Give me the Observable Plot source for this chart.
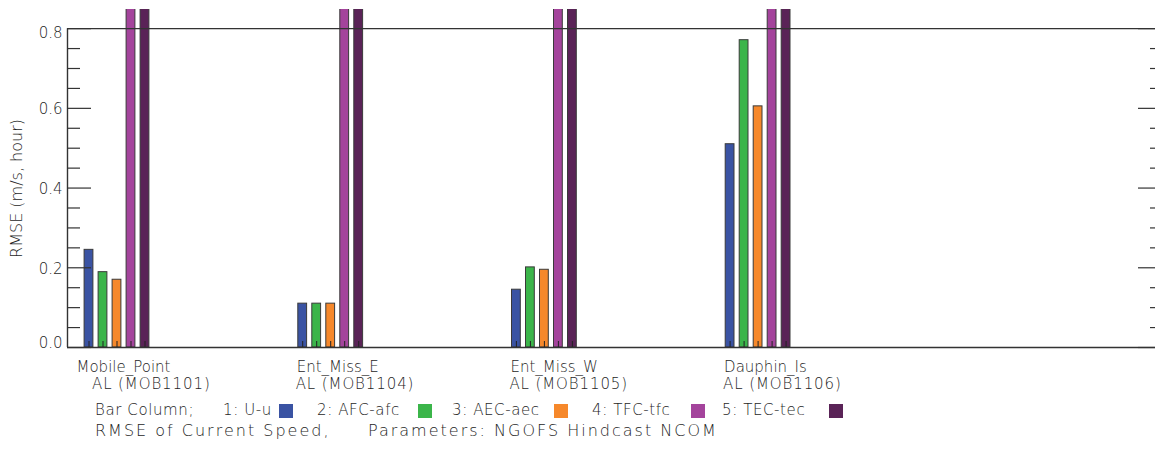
<!DOCTYPE html>
<html>
<head>
<meta charset="utf-8">
<script src="https://cdn.jsdelivr.net/npm/d3@7"></script>
<script src="https://cdn.jsdelivr.net/npm/@observablehq/plot@0.6"></script>
<style>
  html, body { margin: 0; padding: 0; background: #fff; overflow: hidden; }
  #wrap { position: relative; width: 1155px; height: 451px; overflow: hidden; font-family: "DejaVu Sans", sans-serif; font-weight: 200; color: #1e1e1e; }
  #wrap svg { display: block; }
  #wrap svg text { font-weight: 200; }
  .lg { position: absolute; font-size: 15px; line-height: 15px; white-space: pre; letter-spacing: 0.6px; }
  .sw { position: absolute; width: 14px; height: 14px; }
  .cap { position: absolute; font-size: 16px; line-height: 16px; white-space: pre; letter-spacing: 2px; }
</style>
</head>
<body>
<div id="wrap"></div>
<script>
// ---- data ----
const stations = ["Mobile_Point", "Ent_Miss_E", "Ent_Miss_W", "Dauphin_Is"];
const stationIds = ["AL (MOB1101)", "AL (MOB1104)", "AL (MOB1105)", "AL (MOB1106)"];
const seriesNames = ["1: U-u", "2: AFC-afc", "3: AEC-aec", "4: TFC-tfc", "5: TEC-tec"];
const valuesUu  = [0.245, 0.110, 0.145, 0.510];
const valuesAFC = [0.189, 0.110, 0.201, 0.771];
const valuesAEC = [0.170, 0.110, 0.195, 0.605];
const valuesTFC = [0.85, 0.85, 0.85, 0.85];   // off scale (clipped at top)
const valuesTEC = [0.85, 0.85, 0.85, 0.85];   // off scale (clipped at top)
const yTickValues = [0.0, 0.2, 0.4, 0.6, 0.8];
const legendTitle = "Bar Column;";
const captionLeft = "RMSE of Current Speed,";
const captionRight = "Parameters: NGOFS Hindcast NCOM";
const yTitle = "RMSE (m/s, hour)";

const colors = ["#3a53a3", "#3bb54a", "#f6882b", "#a4449c", "#5a2357"];

// ---- layout ----
const W = 1155, H = 395;
const mL = 67, mR = -7, mT = 9, mB = 48;
const yMax = 0.848;
const pxPerUnit = 213.7;
const pxPerY = (H - mT - mB) / yMax;
const firstCenterPx = 116.5;
const x0 = 1 - (firstCenterPx - mL) / pxPerUnit;
const x1 = 1 + ((W - mR) - firstCenterPx) / pxPerUnit;
const u = px => px / pxPerUnit;
const uy = px => px / pxPerY;
const pitch = u(14);
const halfW = u(4.4);

const seriesValues = [valuesUu, valuesAFC, valuesAEC, valuesTFC, valuesTEC];
const rows = [];
stations.forEach((s, i) => {
  seriesNames.forEach((name, j) => {
    rows.push({station: s, series: name, pos: i + 1, j, value: seriesValues[j][i]});
  });
});
const center = d => d.pos + (d.j - 2) * pitch;

const majorTicks = yTickValues;
const minorTicks = d3.range(0, 0.8001, 0.05).filter(v => !majorTicks.some(m => Math.abs(m - v) < 1e-6));

const ink = "#333";
const textInk = "#1e1e1e";

const chart = Plot.plot({
  width: W, height: H,
  marginLeft: mL, marginRight: mR, marginTop: mT, marginBottom: mB,
  style: {fontFamily: "DejaVu Sans, sans-serif", fontSize: "15px", color: textInk, background: "white"},
  x: {domain: [x0, x1], axis: null},
  y: {domain: [0, yMax], axis: null},
  color: {domain: seriesNames, range: colors},
  marks: [
    // bars
    Plot.rect(rows, {
      x1: d => center(d) - halfW, x2: d => center(d) + halfW,
      y1: 0, y2: "value",
      fill: "series", stroke: "#3a3a3a", strokeWidth: 1, clip: true
    }),
    // small ticks at bar centers
    Plot.ruleX(rows, {x: center, y1: 0, y2: uy(6), stroke: "#222", strokeWidth: 1}),
    // frame lines
    Plot.ruleY([0, 0.8], {stroke: ink, strokeWidth: 1.4}),
    Plot.ruleX([x0, x1], {y1: 0, y2: 0.8, stroke: ink, strokeWidth: 1.4}),
    // left ticks
    Plot.ruleY(majorTicks, {y: d => d, x1: x0, x2: x0 + u(24), stroke: ink, strokeWidth: 1.2}),
    Plot.ruleY(minorTicks, {y: d => d, x1: x0, x2: x0 + u(13), stroke: ink, strokeWidth: 1.2}),
    // right ticks
    Plot.ruleY(majorTicks, {y: d => d, x1: x1 - u(24), x2: x1, stroke: ink, strokeWidth: 1.2}),
    Plot.ruleY(minorTicks, {y: d => d, x1: x1 - u(12), x2: x1, stroke: ink, strokeWidth: 1.2}),
    // y tick labels
    Plot.text(yTickValues, {filter: d => d > 0 && d < 0.8, x: x0, y: d => d, text: d => d.toFixed(1), textAnchor: "end", dx: -5, dy: 1, fill: textInk}),
    Plot.text(yTickValues, {filter: d => d >= 0.8, x: x0, y: d => d, text: d => d.toFixed(1), textAnchor: "end", dx: -5, dy: 5, fill: textInk}),
    Plot.text(yTickValues, {filter: d => d <= 0, x: x0, y: d => d, text: d => d.toFixed(1), textAnchor: "end", dx: -5, dy: -4, fill: textInk}),
    // y title
    Plot.text([yTitle], {x: () => x0 - u(51), y: () => uy(347 - 188), text: d => d, rotate: -90, fontSize: 16, fill: textInk}),
    // station labels
    Plot.text(stations, {filter: (d, i) => i > 0, x: (d, i) => i + 1, y: 0, text: d => d, textAnchor: "start", lineAnchor: "bottom", dx: -34, dy: 24, fill: textInk}),
    Plot.text(stationIds, {filter: (d, i) => i > 0, x: (d, i) => i + 1, y: 0, text: d => d, textAnchor: "start", lineAnchor: "bottom", dx: -35, dy: 41, fill: textInk}),
    Plot.text(stations, {filter: (d, i) => i === 0, x: (d, i) => i + 1, y: 0, text: d => d, textAnchor: "start", lineAnchor: "bottom", dx: -40.5, dy: 24, fill: textInk}),
    Plot.text(stationIds, {filter: (d, i) => i === 0, x: (d, i) => i + 1, y: 0, text: d => d, textAnchor: "start", lineAnchor: "bottom", dx: -25, dy: 41, fill: textInk})
  ]
});

const wrap = document.getElementById("wrap");
wrap.appendChild(chart);
// slightly wider spacing for the second label line, like the reference's stroke font
chart.querySelectorAll("text").forEach(t => {
  if (/^AL \(/.test(t.textContent)) t.setAttribute("letter-spacing", "0.9");
});

// legend
const legendTextLeft = [223, 317, 452, 592, 722];
const swatchLeft = [279, 418, 554, 691, 829];
function addSpan(cls, text, left, top) {
  const s = document.createElement("span");
  s.className = cls; s.textContent = text;
  s.style.left = left + "px"; s.style.top = top + "px";
  wrap.appendChild(s);
}
addSpan("lg", legendTitle, 95, 403);
seriesNames.forEach((name, j) => {
  addSpan("lg", name, legendTextLeft[j], 403);
  const sw = document.createElement("span");
  sw.className = "sw";
  sw.style.left = swatchLeft[j] + "px"; sw.style.top = "404px";
  sw.style.background = colors[j];
  wrap.appendChild(sw);
});
// caption
addSpan("cap", captionLeft, 95, 423);
addSpan("cap", captionRight, 368, 423);
</script>
</body>
</html>
